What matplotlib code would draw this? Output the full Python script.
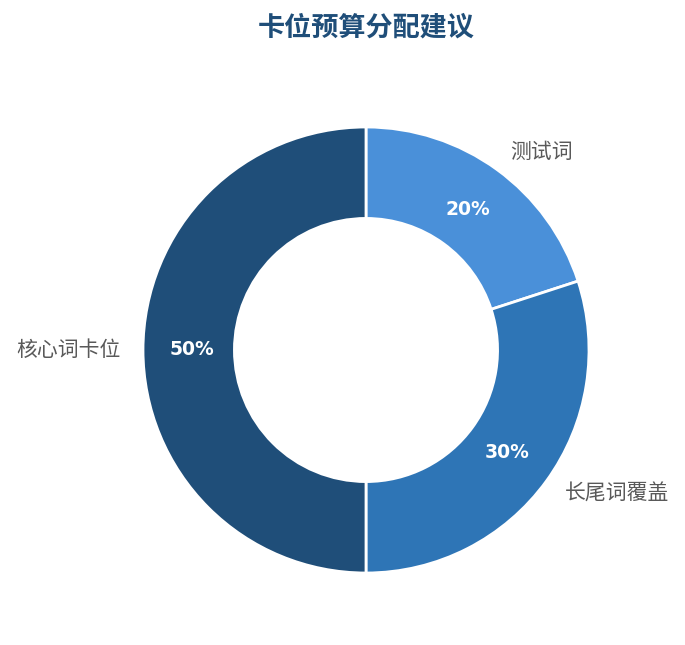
import matplotlib
matplotlib.use("Agg")
from matplotlib import pyplot as plt

plt.rcParams['font.family'] = ['Noto Sans CJK SC', 'DejaVu Sans']

categories = ['测试词', '长尾词覆盖', '核心词卡位']
shares = [20, 30, 50]
colors = ['#4a90d9', '#2e75b6', '#1f4e79']

fig = plt.figure(figsize=(6.85, 6.45), dpi=100)

# axes placed so the donut centre sits at (366, 350) px, radius 223 px
cx, cy, r = 366, 350, 223
ax = fig.add_axes([(cx - r) / 685, (645 - cy - r) / 645, 2 * r / 685, 2 * r / 645])

wedges, texts, autotexts = ax.pie(
    shares, labels=categories, colors=colors, startangle=90, counterclock=False,
    radius=1, labeldistance=1.1, pctdistance=0.78,
    autopct=lambda p: '%d%%' % round(p),
    wedgeprops=dict(width=0.41, edgecolor='white', linewidth=2),
    textprops=dict(fontsize=15, color='#595959'))

for t in autotexts:
    t.set_color('white')
    t.set_fontsize(13.5)
    t.set_fontweight('bold')
    t.set_family('DejaVu Sans')

ax.set_xlim(-1, 1)
ax.set_ylim(-1, 1)
ax.set_aspect('equal')
ax.axis('off')

fig.text(366 / 685, 1 - 28 / 645, '卡位预算分配建议', ha='center', va='center',
         fontsize=19.5, fontweight='bold', color='#1f4e79')

fig.savefig('out.png', dpi=100)
